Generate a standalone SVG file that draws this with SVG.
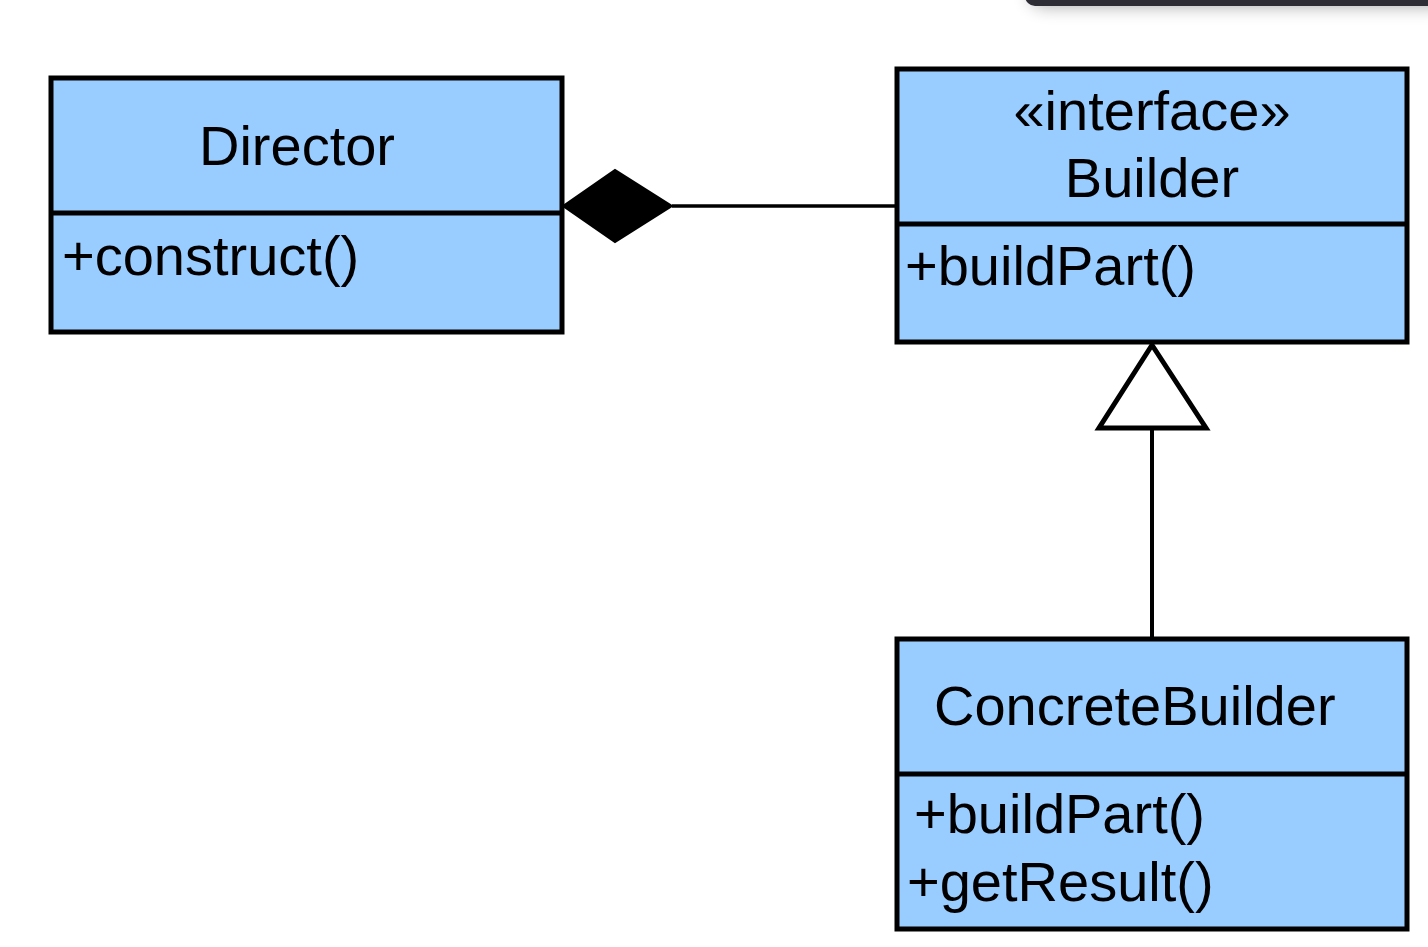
<svg xmlns="http://www.w3.org/2000/svg" width="1428" height="947" viewBox="0 0 1428 947">
  <defs>
    <filter id="shadow" x="-20%" y="-100%" width="140%" height="800%">
      <feGaussianBlur stdDeviation="9"/>
    </filter>
  </defs>
  <style>
    .box { fill: #99ccff; stroke: #000; stroke-width: 5; }
    .div { stroke: #000; stroke-width: 5; }
    .t { font-family: "Liberation Sans", Arial, sans-serif; font-size: 56px; fill: #000; }
    .line { stroke: #000; stroke-width: 3.5; fill: none; }
  </style>
  <rect width="1428" height="947" fill="#fff"/>
  <g id="topbar">
    <rect x="1030" y="-20" width="420" height="26" rx="14" fill="#000" opacity="0.35" filter="url(#shadow)"/>
    <rect x="1025" y="-20" width="420" height="26" rx="10" fill="#2e2d36"/>
  </g>
  <g id="connectors">
    <line class="line" x1="672" y1="206" x2="896" y2="206"/>
    <polygon points="563,206 615,170 672,206 615,242" fill="#000" stroke="#000" stroke-width="2"/>
    <line class="line" x1="1152" y1="428" x2="1152" y2="638" style="stroke-width:4"/>
    <polygon points="1152,345 1206,428 1099,428" fill="#fff" stroke="#000" stroke-width="5" stroke-linejoin="miter"/>
  </g>
  <g id="director">
    <rect class="box" x="51" y="78" width="511" height="254"/>
    <line class="div" x1="51" y1="213" x2="562" y2="213"/>
    <text class="t" x="297" y="165" text-anchor="middle">Director</text>
    <text class="t" x="62" y="275">+construct()</text>
  </g>
  <g id="builder">
    <rect class="box" x="897" y="69" width="510" height="273"/>
    <line class="div" x1="897" y1="224" x2="1407" y2="224"/>
    <text class="t" x="1152" y="130" text-anchor="middle">«interface»</text>
    <text class="t" x="1152" y="197" text-anchor="middle">Builder</text>
    <text class="t" x="905" y="285">+buildPart()</text>
  </g>
  <g id="concretebuilder">
    <rect class="box" x="897" y="639" width="510" height="290"/>
    <line class="div" x1="897" y1="774" x2="1407" y2="774"/>
    <text class="t" x="934" y="725">ConcreteBuilder</text>
    <text class="t" x="914" y="833">+buildPart()</text>
    <text class="t" x="907" y="901">+getResult()</text>
  </g>
</svg>
